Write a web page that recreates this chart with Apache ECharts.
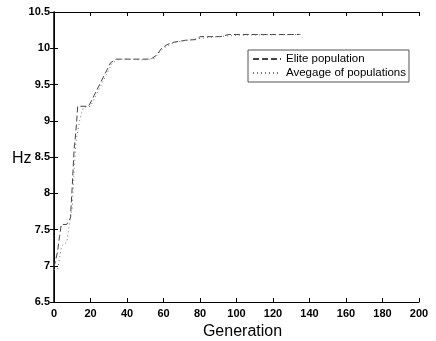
<!DOCTYPE html>
<html><head><meta charset="utf-8">
<script src="https://cdn.jsdelivr.net/npm/echarts@6/dist/echarts.min.js"></script>
<style>html,body{margin:0;padding:0;background:#fff}#c{width:436px;height:341px}</style>
</head><body><div id="c"></div>
<script>
const xTicks = [0,20,40,60,80,100,120,140,160,180,200];
const yTicks = [6.5,7,7.5,8,8.5,9,9.5,10,10.5];
const eliteGen = [0,1,2,3,4,7,8,9,10,11,12,13,17,19,22,25,28,31,34,38,45,53,56,59,62,65,72,78,80,91,96,135];
const eliteVal = [6.98,7.0,7.2,7.4,7.57,7.57,7.62,7.66,8.1,8.6,8.85,9.2,9.2,9.2,9.35,9.5,9.65,9.8,9.85,9.85,9.85,9.85,9.9,10.0,10.05,10.08,10.11,10.12,10.16,10.16,10.19,10.19];
const avgGen = [0,1,2,3,4,5,6,7,8,9,10,11,12,13,14,16,20,22,27,32,36,50,55,60,66,75,85,100,135];
const avgVal = [6.95,6.97,6.95,7.1,7.25,7.3,7.3,7.32,7.5,7.65,7.8,8.3,8.7,8.85,9.0,9.18,9.2,9.3,9.55,9.8,9.85,9.84,9.86,10.0,10.08,10.12,10.15,10.18,10.19];
const seriesNames = ['Elite population','Avegage of populations'];
const yName = 'Hz';

const font = 'Liberation Sans, Arial, sans-serif';
const zip = (a,b)=>a.map((v,i)=>[v,b[i]]);
const chart = echarts.init(document.getElementById('c'));
const lbl = {fontFamily:font,fontSize:11,fontWeight:'bold',color:'#000'};
chart.setOption({
  animation:false,
  backgroundColor:'#fff',
  grid:{left:54,right:17,top:12,bottom:39,containLabel:false,outerBoundsMode:'none'},
  graphic:[{type:'text',left:12,top:151,style:{text:yName,font:'16px '+font,fill:'#000'}}],
  legend:{
    show:true,
    orient:'vertical', left:248, top:50,
    data:seriesNames,
    itemWidth:28, itemHeight:10, itemGap:2,
    padding:[3,3,3,4],
    borderColor:'#555', borderWidth:1,
    itemStyle:{opacity:0},
    textStyle:{fontFamily:font,fontSize:11.5,color:'#000'}
  },
  xAxis:[
    {type:'value',min:0,max:200,interval:20,position:'bottom',
     name:'Generation',nameLocation:'middle',nameGap:20,
     nameTextStyle:{fontFamily:font,fontSize:16,color:'#000',padding:[0,0,0,12]},
     axisLine:{lineStyle:{color:'#000',width:1}},
     axisTick:{inside:true,length:4,lineStyle:{color:'#000'}},
     axisLabel:Object.assign({margin:6},lbl),
     splitLine:{show:false}},
    {type:'value',min:0,max:200,interval:20,position:'top',
     axisLine:{show:true,lineStyle:{color:'#000',width:1}},
     axisTick:{inside:true,length:4,lineStyle:{color:'#000'}},
     axisLabel:{show:false},splitLine:{show:false}}
  ],
  yAxis:[
    {type:'value',min:6.5,max:10.5,interval:0.5,position:'left',
     axisLine:{lineStyle:{color:'#000',width:1.5}},
     axisTick:{inside:true,length:4,lineStyle:{color:'#000'}},
     axisLabel:Object.assign({margin:4},lbl),
     splitLine:{show:false}},
    {type:'value',min:6.5,max:10.5,interval:0.5,position:'right',
     axisLine:{show:true,lineStyle:{color:'#000',width:1}},
     axisTick:{inside:true,length:4,lineStyle:{color:'#000'}},
     axisLabel:{show:false},splitLine:{show:false}}
  ],
  series:[
    {name:seriesNames[0],type:'line',showSymbol:false,symbol:'none',data:zip(eliteGen,eliteVal),
     lineStyle:{color:'#444',width:1,type:[6,3]},itemStyle:{color:'#444'}},
    {name:seriesNames[1],type:'line',showSymbol:false,symbol:'none',data:zip(avgGen,avgVal),
     lineStyle:{color:'#777',width:1,type:[1,3]},itemStyle:{color:'#777'}}
  ]
});
</script></body></html>
